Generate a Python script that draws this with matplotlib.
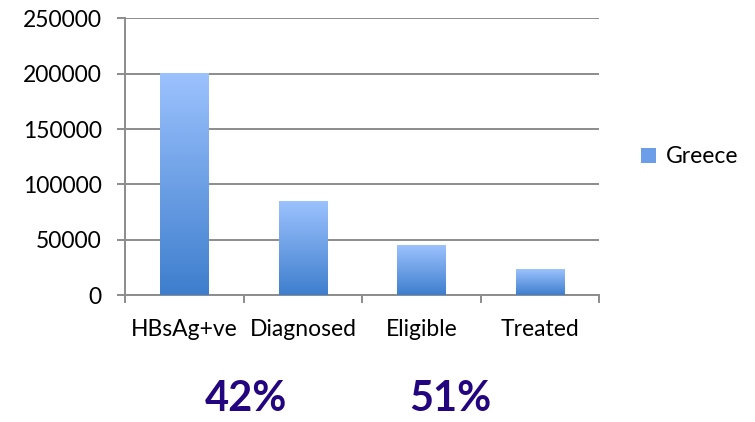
import numpy as np
import matplotlib
matplotlib.use('Agg')
import matplotlib.pyplot as plt
from matplotlib.colors import LinearSegmentedColormap
from matplotlib.patches import Patch

plt.rcParams['font.family'] = ['Lato', 'DejaVu Sans']

categories = ['HBsAg+ve', 'Diagnosed', 'Eligible', 'Treated']
greece = [200000, 84000, 44500, 22700]
pct_labels = ['42%', '51%']
series_name = 'Greece'

grad = LinearSegmentedColormap.from_list('bar', ['#3E7ECD', '#9CC2FE'])
grid_col = '#8C8C8C'

fig = plt.figure(figsize=(7.55, 4.22), dpi=100)
ax = fig.add_axes([0.166, 0.30, 0.628, 0.657])

x = np.arange(len(categories))
width = 0.41
bars = ax.bar(x, greece, width=width, color='none', edgecolor='none', zorder=3)

# vertical gradient inside each bar
g = np.linspace(0, 1, 256).reshape(-1, 1)
for b in bars:
    x0, y0 = b.get_x(), b.get_y()
    w, h = b.get_width(), b.get_height()
    ax.imshow(g, cmap=grad, origin='lower', aspect='auto',
              extent=[x0, x0 + w, y0, y0 + h], zorder=3)

ax.set_xlim(-0.5, len(categories) - 0.5)
ax.set_ylim(0, 250000)
ax.set_yticks(np.arange(0, 250001, 50000))
ax.set_yticklabels([str(v) for v in range(0, 250001, 50000)])
ax.set_xticks(x)
ax.set_xticklabels(categories)
ax.set_xticks(np.arange(-0.5, len(categories), 1.0), minor=True)

ax.grid(axis='y', color=grid_col, linewidth=1.4, zorder=0)
ax.set_axisbelow(True)
for s in ['top', 'right']:
    ax.spines[s].set_visible(False)
for s in ['left', 'bottom']:
    ax.spines[s].set_color(grid_col)
    ax.spines[s].set_linewidth(1.4)

ax.tick_params(axis='y', length=6, width=1.4, color=grid_col, labelsize=16.5, pad=11)
ax.tick_params(axis='x', which='major', length=0, labelsize=16.5, pad=17)
ax.tick_params(axis='x', which='minor', length=6, width=1.4, color=grid_col)

leg = ax.legend([Patch(facecolor='#6C9DE8', edgecolor='none')], [series_name],
                loc='center left', bbox_to_anchor=(1.045, 0.5), frameon=False,
                fontsize=16.5, handlelength=0.65, handleheight=0.65, handletextpad=0.4)

# conversion percentages under the chart
fig.text(0.326, 0.025, pct_labels[0], ha='center', va='baseline',
         fontsize=30, fontweight='bold', color='#22057F')
fig.text(0.596, 0.025, pct_labels[1], ha='center', va='baseline',
         fontsize=30, fontweight='bold', color='#22057F')

fig.savefig('out.png', dpi=100)
